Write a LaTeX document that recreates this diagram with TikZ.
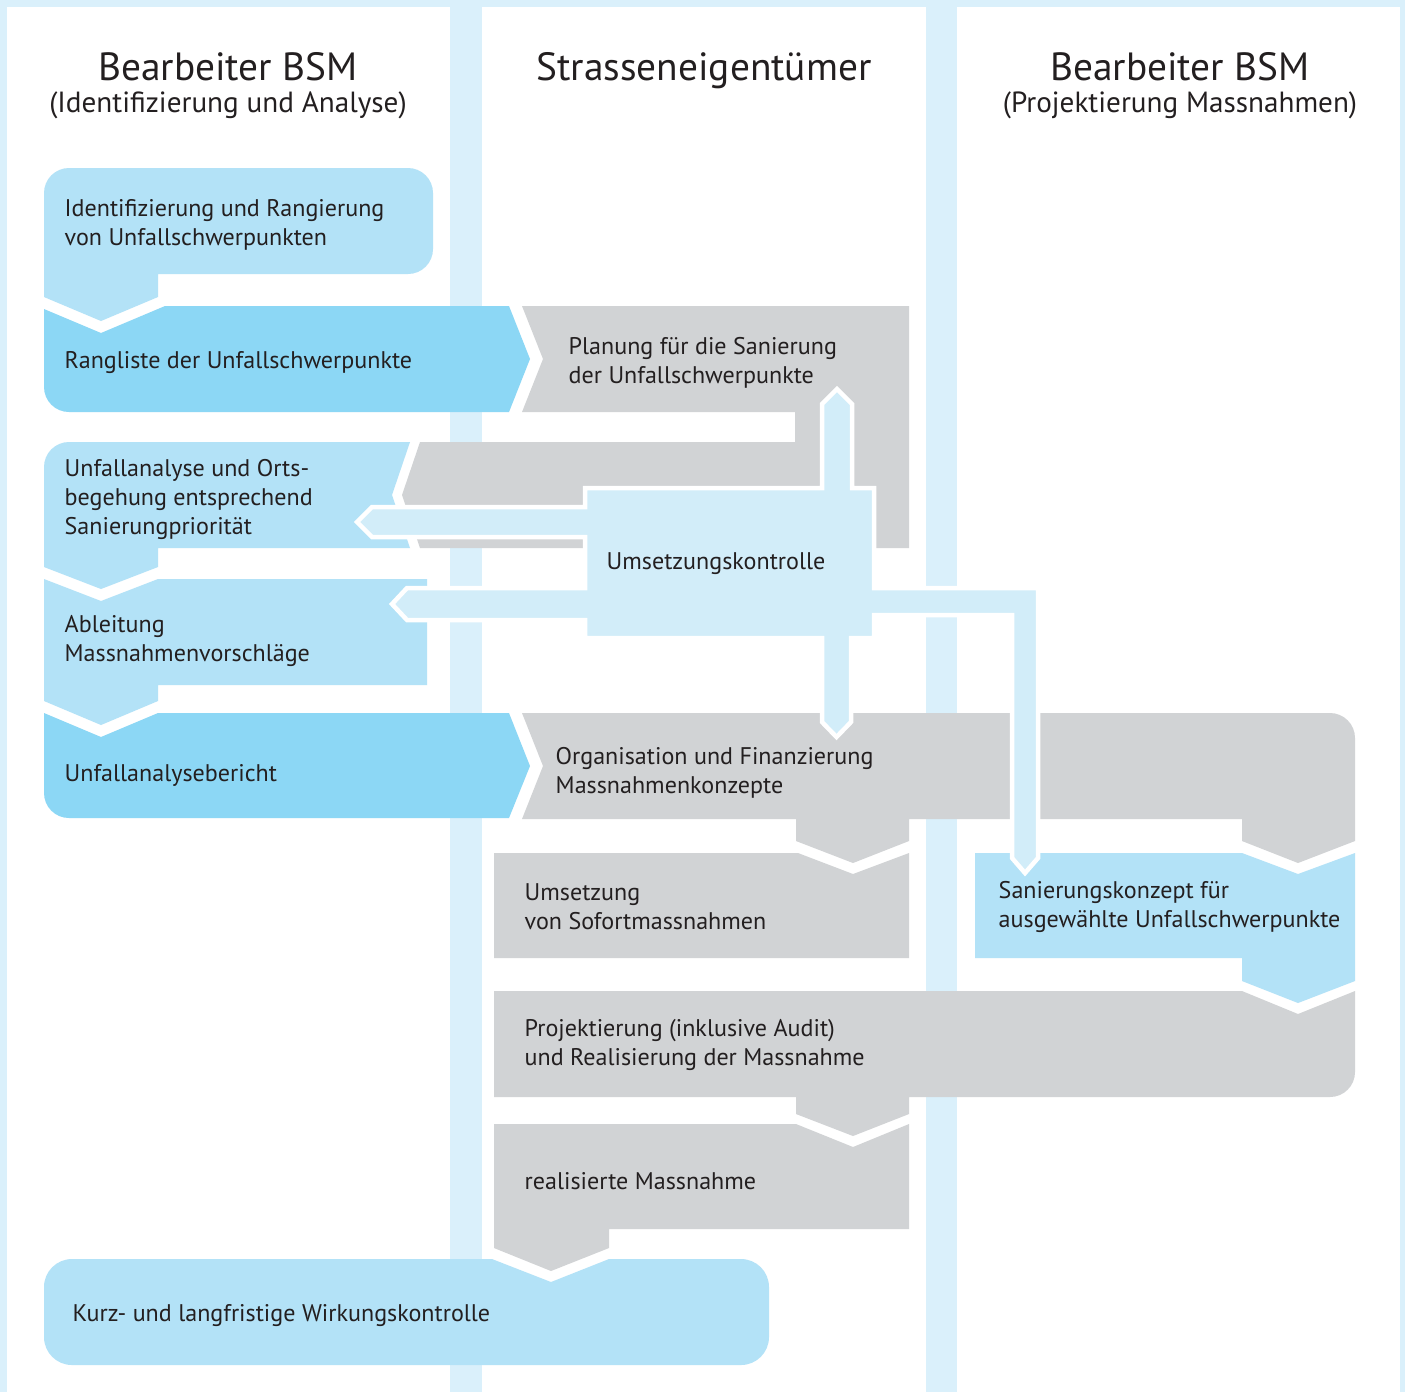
\documentclass[tikz,border=0pt]{standalone}
\usepackage{fontspec}
\setmainfont{PT Sans}
\definecolor{sepblue}{RGB}{218,240,251}
\definecolor{paleblue}{RGB}{179,226,247}
\definecolor{deepblue}{RGB}{140,215,245}
\definecolor{boxgrey}{RGB}{209,211,213}
\definecolor{ctrlblue}{RGB}{210,237,249}
\definecolor{ink}{RGB}{35,31,32}

\begin{document}
\begin{tikzpicture}[x=0.1mm, y=-0.1mm,
    pale/.style={fill=paleblue},
    deep/.style={fill=deepblue},
    grey/.style={fill=boxgrey},
    ctrl/.style={fill=ctrlblue, draw=white, line width=0.45mm, line join=miter},
    lbl/.style={anchor=west, align=left, inner sep=0, text=ink, font=\fontsize{6.85}{8.25}\selectfont},
    head/.style={anchor=base, inner sep=0, text=ink, font=\fontsize{11.2}{13}\selectfont},
    subhead/.style={anchor=base, inner sep=0, text=ink, font=\fontsize{8.3}{9}\selectfont}
]
    % lanes
    \fill[sepblue] (0,0) rectangle (1405,1392);
    \fill[white] (7,7) rectangle (450,1392);
    \fill[white] (482,7) rectangle (926,1392);
    \fill[white] (957,7) rectangle (1400,1392);

    \node (h1) [head] at (228,80) {Bearbeiter BSM};
    \node (h1s) [subhead] at (228,112) {(Identifizierung und Analyse)};
    \node (h2) [head] at (704,80) {Strasseneigentümer};
    \node (h3) [head] at (1180,80) {Bearbeiter BSM};
    \node (h3s) [subhead] at (1180,112) {(Projektierung Massnahmen)};

    % left lane
    \path[pale] (44,297) -- (44,193) arc[start angle=180, end angle=270, radius=25]
        -- (408,168) arc[start angle=270, end angle=360, radius=25]
        -- (433,249) arc[start angle=0, end angle=90, radius=25]
        -- (158,274) -- (158,297) -- (101,321) -- cycle;
    \path[deep] (44,309) -- (101,333) -- (165,306) -- (509,306) -- (530,359) -- (509,412)
        -- (69,412) arc[start angle=90, end angle=180, radius=25] -- cycle;
    \path[pale] (44,567) -- (44,467) arc[start angle=180, end angle=270, radius=25]
        -- (410,442) -- (392,495) -- (410,548) -- (158,548) -- (158,567) -- (101,589) -- cycle;
    \path[pale] (44,579) -- (101,601) -- (158,579) -- (427,579) -- (427,685)
        -- (158,685) -- (158,701) -- (101,725) -- (44,701) -- cycle;
    \path[deep] (44,713) -- (101,737) -- (158,713) -- (509,713) -- (530,766) -- (509,818)
        -- (69,818) arc[start angle=90, end angle=180, radius=25] -- cycle;

    % middle and right lanes
    \path[grey] (522,306) -- (909,306) -- (909,548) -- (420,548) -- (402,495) -- (420,442)
        -- (795,442) -- (795,412) -- (522,412) -- (543,359) -- cycle;
    \path[grey] (522,713) -- (1330,713) arc[start angle=270, end angle=360, radius=25]
        -- (1355,841) -- (1298,863) -- (1242,841) -- (1242,819) -- (909,819) -- (909,841)
        -- (853,863) -- (796,841) -- (796,819) -- (522,819) -- (543,766) -- cycle;
    \path[grey] (494,853) -- (798,853) -- (853,874) -- (909,853) -- (909,958) -- (494,958) -- cycle;
    \path[pale] (975,853) -- (1242,853) -- (1298,874) -- (1355,853) -- (1355,981)
        -- (1298,1003) -- (1242,981) -- (1242,958) -- (975,958) -- cycle;
    \path[grey] (494,991) -- (1242,991) -- (1298,1014) -- (1355,991)
        -- (1355,1072) arc[start angle=0, end angle=90, radius=25]
        -- (909,1097) -- (909,1114) -- (853,1136) -- (796,1114) -- (796,1097) -- (494,1097) -- cycle;
    \path[grey] (494,1124) -- (796,1124) -- (853,1147) -- (909,1124) -- (909,1229)
        -- (609,1229) -- (609,1248) -- (551,1271) -- (494,1248) -- cycle;
    \path[pale] (44,1287) arc[start angle=180, end angle=270, radius=28]
        -- (492,1259) -- (551,1282) -- (609,1259)
        -- (741,1259) arc[start angle=270, end angle=360, radius=28]
        -- (769,1337) arc[start angle=0, end angle=90, radius=28]
        -- (72,1365) arc[start angle=90, end angle=180, radius=28] -- cycle;

    % control loop
    \path[ctrl] (585,488) -- (822,488) -- (822,404) -- (837,389) -- (852,404) -- (852,488)
        -- (874,488) -- (874,588) -- (1038,588) -- (1038,858) -- (1025,873) -- (1012,858)
        -- (1012,615) -- (874,615) -- (874,638) -- (851,638) -- (851,722) -- (836.5,737)
        -- (822,722) -- (822,638) -- (585,638) -- (585,620) -- (407,620) -- (392,604)
        -- (407,588) -- (585,588) -- (585,537) -- (372,537) -- (357,522) -- (372,507)
        -- (585,507) -- cycle;

    \node (ident) [lbl] at (64,225) {Identifizierung und Rangierung\\von Unfallschwerpunkten};
    \node (rang) [lbl] at (64,363) {Rangliste der Unfallschwerpunkte};
    \node (plan) [lbl] at (568,363) {Planung für die Sanierung\\der Unfallschwerpunkte};
    \node (analyse) [lbl] at (64,499) {Unfallanalyse und Orts-\\begehung entsprechend\\Sanierungpriorität};
    \node (kontrolle) [lbl] at (606,564) {Umsetzungskontrolle};
    \node (ableit) [lbl] at (64,641) {Ableitung\\Massnahmenvorschläge};
    \node (bericht) [lbl] at (64,775) {Unfallanalysebericht};
    \node (orga) [lbl] at (555,773) {Organisation und Finanzierung\\Massnahmenkonzepte};
    \node (sofort) [lbl] at (524,907) {Umsetzung\\von Sofortmassnahmen};
    \node (konzept) [lbl] at (998,907) {Sanierungskonzept für\\ausgewählte Unfallschwerpunkte};
    \node (projekt) [lbl] at (524,1045) {Projektierung (inklusive Audit)\\und Realisierung der Massnahme};
    \node (real) [lbl] at (524,1181) {realisierte Massnahme};
    \node (wirkung) [lbl] at (72,1315) {Kurz- und langfristige Wirkungskontrolle};
\end{tikzpicture}
\end{document}
